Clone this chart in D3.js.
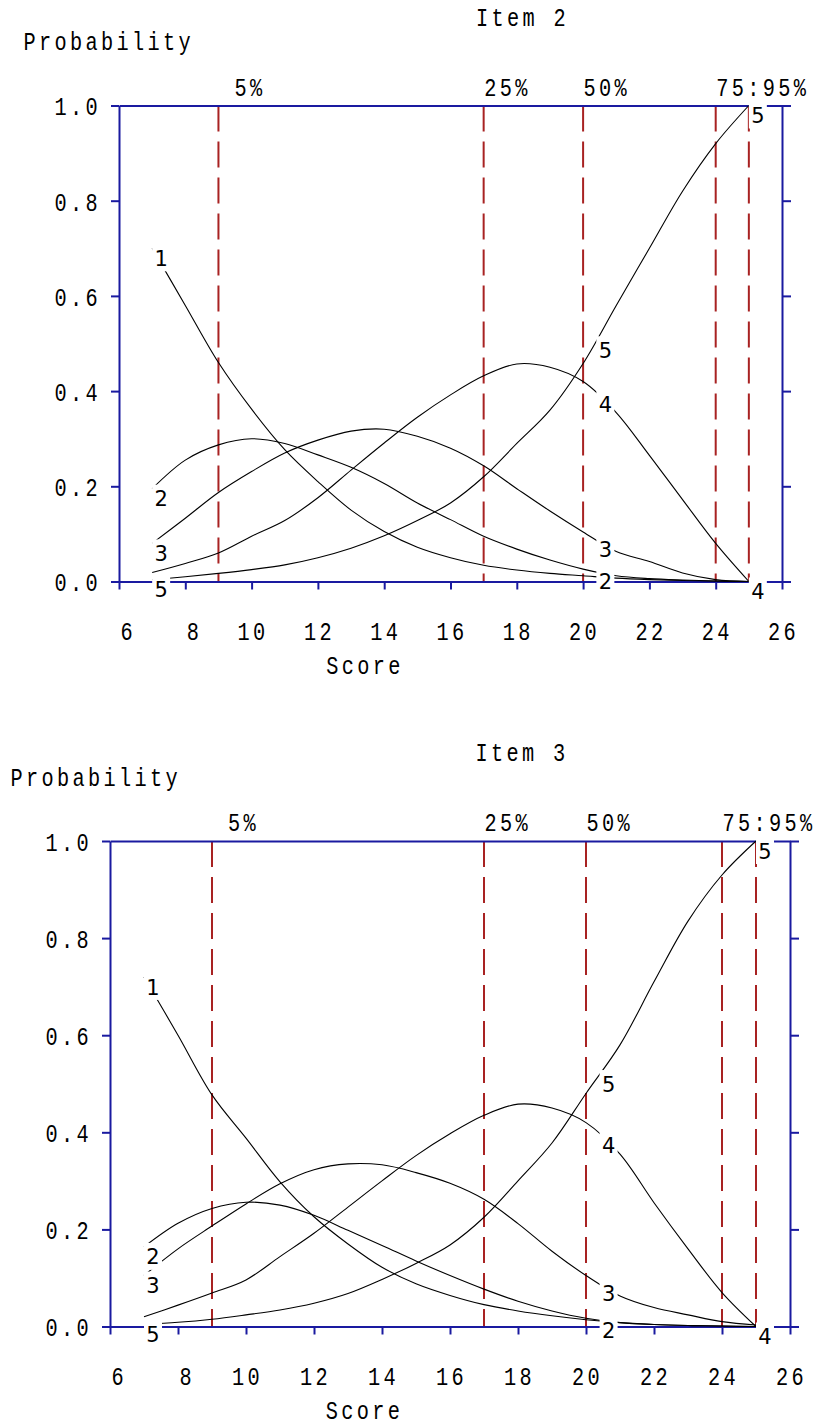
<!DOCTYPE html>
<html>
<head>
<meta charset="utf-8">
<script src="https://cdn.jsdelivr.net/npm/d3@7"></script>
<style>
  body { margin: 0; background: #fff; }
  svg { display: block; }
  .mono { font-family: "Liberation Mono", monospace; font-size: 26px; fill: #000; letter-spacing: 4.27px; }
  .lab { font-family: "DejaVu Sans", sans-serif; font-size: 21px; fill: #000; text-anchor: middle; }
</style>
</head>
<body>
<div id="chart"></div>
<script>
/* Option characteristic curves, items 2 and 3 */

const scores = [7, 8, 9, 10, 11, 12, 13, 14, 15, 16, 17, 18, 19, 20, 21, 22, 23, 24, 25];

const item2Cat1 = [0.70, 0.58, 0.46, 0.362, 0.277, 0.21, 0.15, 0.105, 0.072, 0.05, 0.034, 0.024, 0.017, 0.012, 0.007, 0.004, 0.002, 0.001, 0];
const item2Cat2 = [0.195, 0.255, 0.287, 0.30, 0.29, 0.266, 0.24, 0.206, 0.165, 0.13, 0.095, 0.068, 0.045, 0.026, 0.012, 0.006, 0.003, 0.001, 0];
const item2Cat3 = [0.08, 0.133, 0.187, 0.231, 0.27, 0.297, 0.316, 0.32, 0.305, 0.28, 0.243, 0.195, 0.148, 0.104, 0.063, 0.042, 0.018, 0.004, 0];
const item2Cat4 = [0.019, 0.038, 0.06, 0.095, 0.128, 0.176, 0.234, 0.291, 0.345, 0.392, 0.432, 0.457, 0.45, 0.42, 0.355, 0.265, 0.172, 0.08, 0];
const item2Cat5 = [0.004, 0.01, 0.017, 0.025, 0.035, 0.05, 0.07, 0.096, 0.128, 0.165, 0.22, 0.29, 0.36, 0.458, 0.58, 0.70, 0.82, 0.92, 1.0];

const item3Cat1 = [0.72, 0.60, 0.477, 0.388, 0.298, 0.226, 0.17, 0.122, 0.088, 0.064, 0.045, 0.032, 0.022, 0.014, 0.008, 0.004, 0.002, 0.001, 0];
const item3Cat2 = [0.164, 0.2125, 0.243, 0.256, 0.25, 0.229, 0.198, 0.167, 0.135, 0.105, 0.077, 0.052, 0.032, 0.017, 0.008, 0.004, 0.002, 0.001, 0];
const item3Cat3 = [0.105, 0.16, 0.207, 0.2525, 0.294, 0.323, 0.335, 0.333, 0.317, 0.295, 0.262, 0.212, 0.155, 0.105, 0.063, 0.039, 0.024, 0.01, 0.003];
const item3Cat4 = [0.02, 0.044, 0.069, 0.096, 0.144, 0.192, 0.246, 0.30, 0.352, 0.397, 0.435, 0.458, 0.45, 0.42, 0.355, 0.255, 0.16, 0.07, 0];
const item3Cat5 = [0.0045, 0.0086, 0.015, 0.024, 0.034, 0.048, 0.068, 0.097, 0.13, 0.168, 0.225, 0.30, 0.378, 0.48, 0.58, 0.71, 0.835, 0.93, 1.0];

const categories = ["1", "2", "3", "4", "5"];
const pctScores = [9, 17, 20, 24, 25];       // 5%, 25%, 50%, 75%, 95%
const pctLabels = ["5%", "25%", "50%", "75:95%"];
const labelScores = [7, 20.4, 25];           // where the category numbers sit
const xTicks = [6, 8, 10, 12, 14, 16, 18, 20, 22, 24, 26];
const yTicks = [0, 0.2, 0.4, 0.6, 0.8, 1.0];

const width = 822, height = 1426;
const blue = "#1a1aa0", red = "#a82222";
const adv = 15.5, glyphW = 9.5;   // monospaced text metrics on screen

const svg = d3.select("#chart")
              .append("svg")
              .attr("width", width)
              .attr("height", height)
              .attr("viewBox", [0, 0, width, height]);

// narrow monospaced text, x = left edge of first glyph, y = middle of glyphs
function mono(g, x, y, str) {
    g.append("text")
     .attr("class", "mono")
     .attr("transform", `translate(${x - 1.5},${y + 7.8}) scale(0.78,1)`)
     .text(str);
}

function panel(cfg) {
    const g = svg.append("g");

    const x = d3.scaleLinear().domain([6, 26]).range([cfg.left, cfg.right]);
    const y = d3.scaleLinear().domain([0, 1]).range([cfg.bottom, cfg.top]);

    /* percentile lines */
    g.selectAll(".pct")
     .data(pctScores)
     .join("line")
     .attr("x1", d => x(d)).attr("x2", d => x(d))
     .attr("y1", cfg.top).attr("y2", cfg.bottom)
     .attr("stroke", red)
     .attr("stroke-width", 2)
     .attr("stroke-dasharray", "26,10");

    pctLabels.forEach((t, i) => {
        mono(g, x(pctScores[i]) + 2 + Math.max(0, 3 - t.length) * adv, cfg.top - 17.5, t);
    });

    /* axes */
    const styleAxis = a => {
        a.selectAll("path, line").attr("stroke", blue).attr("stroke-width", 2);
        a.selectAll("text").remove();
    };
    g.append("g").attr("transform", `translate(${cfg.left},0)`)
     .call(d3.axisLeft(y).tickValues(yTicks).tickSize(8).tickSizeOuter(0)).call(styleAxis);
    g.append("g").attr("transform", `translate(${cfg.right},0)`)
     .call(d3.axisRight(y).tickValues(yTicks).tickSize(9).tickSizeOuter(0)).call(styleAxis);
    g.append("g").attr("transform", `translate(0,${cfg.bottom})`)
     .call(d3.axisBottom(x).tickValues(xTicks).tickSize(8).tickSizeOuter(0)).call(styleAxis);
    g.append("g").attr("transform", `translate(0,${cfg.top})`)
     .call(d3.axisTop(x).tickValues([]).tickSizeOuter(0)).call(styleAxis);

    yTicks.forEach(v => {
        const t = v.toFixed(1);
        mono(g, cfg.left - 22.5 - (t.length - 1) * adv - glyphW, y(v) + 2, t);
    });
    xTicks.forEach(v => {
        const t = String(v);
        mono(g, x(v) - (adv + glyphW) / 2 + (2 - t.length) * adv, cfg.bottom + 50.5, t);
    });

    mono(g, (cfg.left + cfg.right) / 2 + 70.5 - (5 * adv + glyphW) / 2, cfg.top - 87.5, cfg.title);
    mono(g, cfg.probX, cfg.top - 63, "Probability");
    mono(g, (cfg.left + cfg.right) / 2 - 87 - (4 * adv + glyphW) / 2, cfg.bottom + 85, "Score");

    /* curves */
    const line = d3.line()
                   .x(d => x(d[0]))
                   .y(d => y(d[1]))
                   .curve(d3.curveCatmullRom.alpha(0.5));

    cfg.cats.forEach(vals => {
        g.append("path")
         .datum(scores.map((s, i) => [s, vals[i]]))
         .attr("fill", "none")
         .attr("stroke", "#000")
         .attr("stroke-width", 1.1)
         .attr("d", line);
    });

    /* category numbers, each on a white patch; a number hidden under a later one is left out */
    labelScores.forEach(s => {
        const pos = cfg.cats.map((vals, k) => {
            const p = d3.scaleLinear().domain(scores).range(vals)(s);
            return {k, cx: x(s) + 9, cy: y(p) + 10};
        });
        pos.forEach((d, i) => {
            const hidden = pos.slice(i + 1).some(e => Math.abs(e.cy - d.cy) < 16);
            if (hidden) return;
            g.append("rect")
             .attr("x", d.cx - 9).attr("y", d.cy - 14)
             .attr("width", 18).attr("height", 27)
             .attr("fill", "#fff");
            g.append("text")
             .attr("class", "lab")
             .attr("x", d.cx).attr("y", d.cy + 7.6)
             .text(categories[d.k]);
        });
    });
}

panel({left: 119, right: 782, top: 105.5, bottom: 581.5, probX: 25, title: "Item 2",
       cats: [item2Cat1, item2Cat2, item2Cat3, item2Cat4, item2Cat5]});
panel({left: 110, right: 790, top: 841, bottom: 1326.5, probX: 12, title: "Item 3",
       cats: [item3Cat1, item3Cat2, item3Cat3, item3Cat4, item3Cat5]});
</script>
</body>
</html>
